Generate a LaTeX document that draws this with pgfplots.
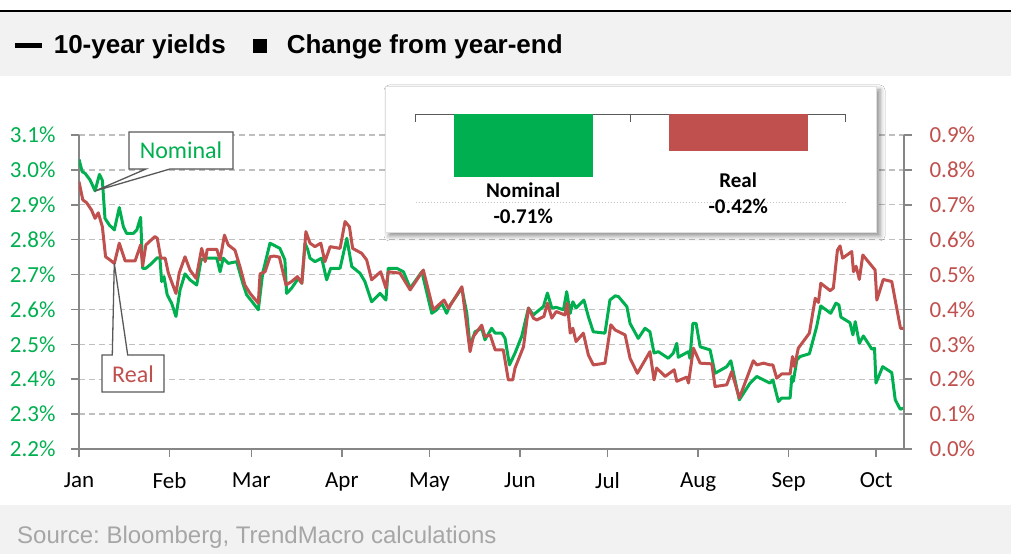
\documentclass[border=0pt]{standalone}
\usepackage{pgfplots}
\pgfplotsset{compat=1.18}
\usepackage{pgfplotstable}
\usepackage{fontspec}
\setmainfont{Carlito}
\newfontfamily\arialfont{Liberation Sans}
\usetikzlibrary{shadows.blur}
\frenchspacing
\definecolor{cgreen}{HTML}{00B050}
\definecolor{cred}{HTML}{C0504D}
\definecolor{axgray}{HTML}{868686}
\definecolor{gridgray}{HTML}{BFBFBF}
\definecolor{bandgray}{HTML}{F2F2F2}
\definecolor{srcgray}{HTML}{A6A6A6}
\definecolor{callgray}{HTML}{595959}

\pgfplotstableread{
day val
0.0 3.030
1.1 2.995
2.1 2.990
3.8 2.971
5.5 2.940
7.0 2.987
8.0 2.970
8.9 2.861
10.4 2.842
12.1 2.828
13.8 2.892
15.2 2.837
16.3 2.818
18.6 2.818
19.8 2.828
21.1 2.864
21.8 2.718
22.9 2.718
24.9 2.732
26.8 2.748
27.7 2.748
28.3 2.680
29.1 2.694
30.2 2.642
31.7 2.618
33.2 2.580
34.6 2.656
36.3 2.702
38.0 2.685
40.3 2.670
41.8 2.742
43.2 2.747
47.2 2.747
48.3 2.708
49.4 2.747
51.1 2.732
54.0 2.737
56.1 2.675
57.4 2.642
59.5 2.620
61.4 2.599
62.9 2.704
65.4 2.790
68.8 2.775
70.5 2.742
71.1 2.646
72.8 2.661
75.1 2.689
76.3 2.675
77.4 2.790
78.3 2.772
79.1 2.747
80.8 2.737
83.1 2.747
84.8 2.685
86.2 2.718
89.4 2.718
91.7 2.804
93.4 2.723
96.2 2.704
97.9 2.680
100.2 2.622
103.1 2.646
105.1 2.627
105.9 2.718
108.8 2.718
111.1 2.708
113.4 2.661
117.4 2.708
120.8 2.589
122.5 2.599
124.2 2.618
125.9 2.589
127.1 2.613
131.1 2.661
132.8 2.589
133.9 2.493
135.6 2.536
137.9 2.546
139.0 2.513
141.3 2.546
142.5 2.532
144.8 2.532
145.9 2.517
147.4 2.441
149.3 2.475
151.6 2.523
153.9 2.604
155.6 2.584
156.2 2.589
159.0 2.608
160.4 2.647
161.9 2.604
163.4 2.606
165.9 2.599
167.0 2.651
168.2 2.589
169.1 2.622
170.2 2.604
172.9 2.627
174.4 2.580
176.1 2.536
180.1 2.532
181.8 2.627
183.6 2.639
184.7 2.637
187.6 2.608
188.7 2.560
191.5 2.517
193.8 2.546
195.5 2.536
196.9 2.475
198.4 2.479
201.8 2.460
203.5 2.475
204.7 2.503
205.2 2.463
208.7 2.479
209.2 2.460
210.2 2.560
211.3 2.560
212.7 2.493
216.1 2.484
217.8 2.417
221.8 2.436
223.2 2.453
226.1 2.341
229.8 2.389
232.1 2.408
233.2 2.403
236.6 2.389
237.6 2.398
239.5 2.336
240.6 2.346
243.5 2.346
244.1 2.408
244.6 2.394
245.8 2.455
246.9 2.465
250.1 2.473
252.6 2.551
254.0 2.610
257.4 2.589
259.2 2.618
260.2 2.613
260.9 2.578
264.0 2.562
265.0 2.527
265.8 2.565
267.2 2.503
268.6 2.524
271.5 2.486
272.4 2.489
272.9 2.389
275.2 2.436
278.3 2.419
279.5 2.341
281.2 2.314
282.3 2.317
}\nominal

\pgfplotstableread{
day val
0.0 0.766
1.3 0.714
2.6 0.706
4.3 0.685
5.5 0.661
6.6 0.677
8.0 0.637
9.1 0.551
10.6 0.542
12.1 0.532
13.8 0.590
15.8 0.539
19.2 0.539
21.1 0.585
21.8 0.525
22.9 0.585
26.0 0.609
26.8 0.604
28.0 0.547
29.5 0.547
30.6 0.504
33.2 0.446
34.3 0.504
36.3 0.551
38.0 0.513
40.1 0.489
42.0 0.575
43.2 0.537
43.9 0.572
47.2 0.572
48.3 0.542
49.8 0.613
51.1 0.585
53.4 0.570
55.1 0.523
56.8 0.470
58.6 0.446
61.4 0.418
62.0 0.502
63.7 0.508
65.4 0.551
66.8 0.553
68.6 0.550
70.9 0.470
72.8 0.480
74.8 0.494
76.3 0.475
77.7 0.623
79.1 0.590
80.8 0.580
82.8 0.590
84.2 0.537
86.0 0.580
89.4 0.575
91.1 0.652
92.6 0.637
93.7 0.575
96.8 0.561
98.5 0.542
100.2 0.485
103.3 0.508
105.1 0.461
105.9 0.508
109.9 0.504
113.4 0.456
117.9 0.513
121.3 0.399
125.0 0.427
126.5 0.403
131.1 0.465
133.9 0.279
135.0 0.322
137.9 0.355
139.0 0.322
140.8 0.327
142.5 0.284
145.3 0.284
147.0 0.198
148.5 0.198
149.3 0.232
152.2 0.293
153.9 0.404
155.6 0.375
156.8 0.370
159.2 0.380
160.4 0.418
161.9 0.375
163.4 0.394
166.4 0.384
167.2 0.418
168.2 0.332
169.1 0.346
170.2 0.308
172.7 0.332
174.4 0.270
176.1 0.241
180.1 0.246
182.1 0.356
183.6 0.341
187.0 0.327
188.7 0.260
191.2 0.217
195.5 0.279
196.9 0.198
197.8 0.232
200.7 0.208
203.8 0.227
204.7 0.194
208.1 0.206
208.7 0.189
210.4 0.289
212.7 0.246
216.7 0.244
217.8 0.179
221.8 0.184
223.5 0.222
226.1 0.146
230.9 0.253
232.1 0.241
234.4 0.246
236.6 0.241
237.6 0.241
238.9 0.203
240.6 0.215
243.5 0.215
244.3 0.265
245.0 0.236
246.3 0.289
250.1 0.332
252.1 0.432
253.2 0.420
254.0 0.475
257.2 0.454
258.3 0.461
259.7 0.570
260.6 0.582
261.5 0.547
264.6 0.566
265.2 0.508
266.1 0.524
267.2 0.486
268.4 0.556
272.6 0.513
273.2 0.427
275.4 0.486
278.3 0.480
281.3 0.346
282.3 0.346
}\real

\begin{document}
\begin{tikzpicture}[x=1pt,y=1pt]
\useasboundingbox (0,0) rectangle (1011,554);
\fill[white] (0,0) rectangle (1011,554);
% header band
\fill[bandgray] (0,478) rectangle (1011,542);
\draw[black, line width=2pt] (0,543.3) -- (1011,543.3);
\node[anchor=base west, inner sep=0pt, font=\arialfont\bfseries\fontsize{26}{30}\selectfont] at (15,500) {\rule[6pt]{27pt}{4.5pt}};
\node[anchor=base west, inner sep=0pt, font=\arialfont\bfseries\fontsize{26}{30}\selectfont] at (53.6,500) {10-year yields};
\node[anchor=base west, inner sep=0pt, font=\arialfont\bfseries\fontsize{26}{30}\selectfont] at (253,500) {\rule[1pt]{14pt}{13.5pt}};
\node[anchor=base west, inner sep=0pt, font=\arialfont\bfseries\fontsize{26}{30}\selectfont] at (286.6,500) {Change from year-end};
% footer band
\fill[bandgray] (0,0) rectangle (1011,49);
\node[anchor=base west, inner sep=0pt, text=srcgray, font=\arialfont\fontsize{24}{26}\selectfont] at (17,11) {Source: Bloomberg, TrendMacro calculations};

% main axis (nominal, left)
\begin{axis}[
  at={(79pt,105pt)}, anchor=south west, scale only axis, width=825pt, height=314pt,
  xmin=0, xmax=282.5, ymin=2.2, ymax=3.1,
  axis y line*=left, axis x line*=bottom,
  axis line style={axgray, line width=1.6pt, -},
  xtick={0,31,59,90,120,151,181,212,243,273},
  xticklabels={Jan,Feb,Mar,Apr,May,Jun,Jul,Aug,Sep,Oct},
  ytick={2.2,2.3,2.4,2.5,2.6,2.7,2.8,2.9,3.0,3.1},
  tick align=outside, major tick length=8pt,
  tick style={axgray, line width=1.6pt},
  ymajorgrids, grid style={gridgray, line width=1.3pt, dash pattern=on 6pt off 4pt},
  /pgf/number format/assume math mode=true,
  yticklabel={\pgfmathprintnumber[fixed,fixed zerofill,precision=1]{\tick}\%},
  yticklabel style={text=cgreen, font=\fontsize{23}{23}\selectfont, xshift=-12pt},
  xticklabel style={text=black, font=\fontsize{23}{23}\selectfont, yshift=-12pt},
]
\addplot[cgreen, line width=3pt, line join=round] table[x=day,y=val] {\nominal};
\end{axis}

% secondary axis (real, right)
\begin{axis}[
  at={(79pt,105pt)}, anchor=south west, scale only axis, width=825pt, height=314pt,
  xmin=0, xmax=282.5, ymin=0, ymax=0.9,
  axis y line*=right, axis x line=none,
  axis line style={axgray, line width=1.6pt, -},
  ytick={0,0.1,0.2,0.3,0.4,0.5,0.6,0.7,0.8,0.9},
  tick align=outside, major tick length=8pt,
  tick style={axgray, line width=1.6pt},
  /pgf/number format/assume math mode=true,
  yticklabel={\pgfmathprintnumber[fixed,fixed zerofill,precision=1]{\tick}\%},
  yticklabel style={text=cred, font=\fontsize{23}{23}\selectfont, xshift=14pt},
]
\addplot[cred, line width=3pt, line join=round] table[x=day,y=val] {\real};
\end{axis}

% callouts
\filldraw[fill=white, draw=callgray, line width=1.3pt, line join=miter]
  (129,422) -- (233,422) -- (233,385) -- (170,385) -- (95,363) -- (146,385) -- (129,385) -- cycle;
\node[text=cgreen, font=\fontsize{24}{24}\selectfont] at (181,403.5) {Nominal};
\filldraw[fill=white, draw=callgray, line width=1.3pt, line join=miter]
  (102,199) -- (112.3,199) -- (114.3,290.7) -- (127.7,199) -- (164,199) -- (164,162) -- (102,162) -- cycle;
\node[text=cred, font=\fontsize{24}{24}\selectfont] at (133,180) {Real};

% inset
\draw[fill=white, draw=gray!25, line width=0.8pt, blur shadow={shadow xshift=4pt, shadow yshift=-4pt, shadow blur radius=5pt, shadow opacity=45}] (385,322) rectangle (876,468);
\draw[gray!45, line width=1pt, dash pattern=on 1pt off 2pt] (415.7,351.3) -- (845.7,351.3);
\begin{axis}[
  at={(415.7pt,351.3pt)}, anchor=south west, scale only axis, width=430pt, height=88.4pt,
  xmin=-0.5, xmax=1.5, ymin=-1, ymax=0,
  ybar, bar width=139pt, bar shift=0pt,
  axis x line*=top, axis y line=none,
  axis line style={callgray, line width=1.4pt, -},
  xtick={-0.5,0.5,1.5}, xticklabels={}, ytick=\empty,
  tick align=inside, major tick length=8pt,
  tick style={callgray, line width=1.4pt},
  clip=false,
]
\addplot[fill=cgreen, draw=none] coordinates {(0,-0.71)};
\addplot[fill=cred, draw=none] coordinates {(1,-0.42)};
\node[anchor=north, align=center, inner sep=0pt, font=\bfseries\fontsize{21}{26}\selectfont] at (axis cs:0,-0.775) {Nominal\\-0.71\%};
\node[anchor=north, align=center, inner sep=0pt, font=\bfseries\fontsize{21}{26}\selectfont] at (axis cs:1,-0.66) {Real\\-0.42\%};
\end{axis}
\end{tikzpicture}
\end{document}
